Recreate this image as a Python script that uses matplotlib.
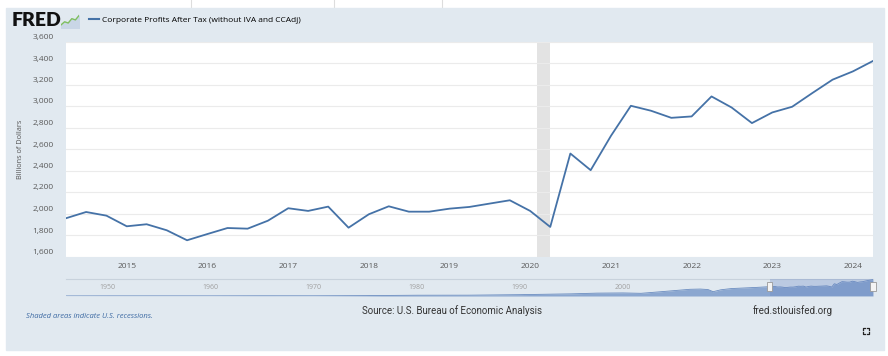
import numpy as np
import pandas as pd
import matplotlib
matplotlib.use("Agg")
import matplotlib.pyplot as plt
import matplotlib.dates as mdates
from matplotlib.patches import Rectangle
from matplotlib.lines import Line2D
from matplotlib.ticker import FuncFormatter
from matplotlib.transforms import ScaledTranslation

# quarterly values, billions of dollars (2014Q2 .. 2024Q2)
quarters = pd.date_range("2014-04-01", "2024-04-01", freq="QS")
profits = [1956, 2014, 1980, 1881, 1900, 1844, 1751, 1809, 1865, 1859, 1933,
           2049, 2024, 2064, 1868, 1993, 2067, 2017, 2017, 2045, 2061, 2092,
           2123, 2024, 1875, 2558, 2403, 2723, 3002, 2956, 2890, 2903, 3089,
           2986, 2841, 2940, 2993, 3120, 3245, 3322, 3419]

# rough history for the navigator strip
hist_dates = pd.to_datetime([
    "1946-01-01", "1950-01-01", "1955-01-01", "1960-01-01", "1965-01-01",
    "1970-01-01", "1975-01-01", "1980-01-01", "1985-01-01", "1990-01-01",
    "1995-01-01", "1997-07-01", "2000-01-01", "2001-10-01", "2004-01-01",
    "2006-07-01", "2007-07-01", "2008-04-01", "2008-10-01", "2009-07-01",
    "2010-07-01", "2012-01-01", "2013-01-01"])
hist_vals = [15, 25, 28, 27, 45, 42, 80, 160, 170, 280, 450, 600, 640, 560,
             950, 1400, 1450, 1350, 900, 1300, 1550, 1700, 1800]

recession = ("2020-02-01", "2020-04-01")
year_ticks = list(range(2015, 2025))
y_ticks = list(range(1600, 3601, 200))
nav_decades = [1950, 1960, 1970, 1980, 1990, 2000]
logo_icon = [1, 2, 1.6, 3, 2.6, 4]

series_name = "Corporate Profits After Tax (without IVA and CCAdj)"
line_color = "#4572a7"
panel = "#e1e9f0"

W, H = 888, 356


def fx(x):
    return x / W


def fy(y):
    return 1 - y / H


fig = plt.figure(figsize=(W / 100, H / 100), dpi=100)
fig.patch.set_facecolor("white")
fig.patches.append(Rectangle((fx(6), fy(350)), fx(878), (350 - 8) / H,
                             transform=fig.transFigure, color=panel,
                             zorder=-10))
for xl in (191, 334, 442):
    fig.lines.append(Line2D([fx(xl), fx(xl)], [fy(0), fy(8)], color="#dddddd",
                            lw=0.8, transform=fig.transFigure, zorder=-10))

# main chart
ax = fig.add_axes([fx(66), fy(256.5), fx(807), (256.5 - 41.5) / H])
ax.set_facecolor("white")
ax.plot(quarters, profits, color=line_color, lw=1.3, zorder=3)
ax.axvspan(pd.Timestamp(recession[0]), pd.Timestamp(recession[1]),
           color="#e3e3e3", lw=0, zorder=1)
ax.set_xlim(quarters[0], quarters[-1])
ax.set_ylim(1600, 3600)
ax.set_yticks(y_ticks)
ax.yaxis.set_major_formatter(FuncFormatter(lambda v, p: f"{int(v):,}"))
ax.set_xticks([pd.Timestamp(f"{y}-01-01") for y in year_ticks])
ax.xaxis.set_major_formatter(mdates.DateFormatter("%Y"))
ax.grid(axis="y", color="#ebebeb", lw=0.8, zorder=0)
for s in ax.spines.values():
    s.set_visible(False)
ax.tick_params(axis="both", length=0, labelsize=6, labelcolor="#5a5a5a")
ax.tick_params(axis="y", pad=9)
ax.tick_params(axis="x", pad=5)
for lab in ax.get_yticklabels():
    lab.set_fontfamily("Open Sans")
    lab.set_transform(lab.get_transform() +
                      ScaledTranslation(0, 5 / 100, fig.dpi_scale_trans))
for lab in ax.get_xticklabels():
    lab.set_fontfamily("Open Sans")
fig.text(fx(21), fy(149), "Billions of Dollars", rotation=90, ha="center",
         va="center", fontsize=5.3, color="#555555", family="Open Sans")

# navigator
nav = fig.add_axes([fx(66), fy(296), fx(807), (296 - 279) / H])
nav.set_facecolor(panel)
nav_x = list(hist_dates) + list(quarters)
nav_y = list(hist_vals) + profits
nav.fill_between(nav_x, nav_y, 0, color="#8ba7d0", lw=0, zorder=2)
nav.plot(nav_x, nav_y, color="#6a8cc0", lw=0.6, zorder=3)
nav.axvspan(quarters[0], quarters[-1], color=(102 / 255, 133 / 255, 194 / 255),
            alpha=0.3, lw=0, zorder=4)
nav.set_xlim(pd.Timestamp("1946-01-01"), quarters[-1])
nav.set_ylim(0, 3550)
for d in nav_decades:
    nav.text(pd.Timestamp(f"{d}-01-01"), 1850, str(d), ha="center",
             va="center", fontsize=5, color="#a0a0a0", family="Open Sans",
             zorder=1)
nav.set_xticks([])
nav.set_yticks([])
for k, s in nav.spines.items():
    s.set_visible(k == "top")
nav.spines["top"].set_color("#c8d2dc")
nav.spines["top"].set_linewidth(0.8)
for d in (quarters[0], quarters[-1]):
    x0 = mdates.date2num(d) - 90
    nav.add_patch(Rectangle((x0, 1050), 180, 1870, fc="#f4f4f4",
                            ec="#999999", lw=0.6, zorder=6, clip_on=False))

# header
fig.text(fx(12), fy(21), "FRED", fontsize=14, fontweight="heavy",
         family="Lato", color="#111111", va="center", ha="left")
icon = fig.add_axes([fx(61), fy(28), fx(18), 14 / H])
icon.plot(range(len(logo_icon)), logo_icon, color="#7fbf5f", lw=1)
icon.fill_between(range(len(logo_icon)), logo_icon, 0, color="#c9d6e6")
icon.set_xlim(0, len(logo_icon) - 1)
icon.set_ylim(0, 4.5)
icon.axis("off")
handle = Line2D([], [], color=line_color, lw=1.5)
fig.legend([handle], [series_name], loc="center left",
           bbox_to_anchor=(fx(86), fy(20)), frameon=False, handlelength=1.1,
           handletextpad=0.4, borderaxespad=0,
           prop={"family": "Open Sans", "size": 6})

# footer
fig.text(fx(26), fy(316), "Shaded areas indicate U.S. recessions.",
         fontsize=5.5, style="italic", color="#3d6aa3", va="center",
         family="Open Sans")
fig.text(fx(452), fy(311), "Source: U.S. Bureau of Economic Analysis",
         fontsize=7, color="#333333", va="center", ha="center",
         family="Roboto")
fig.text(fx(793), fy(311), "fred.stlouisfed.org", fontsize=7,
         color="#333333", va="center", ha="center", family="Roboto")
for sx, sy in ((-1, -1), (1, -1), (-1, 1), (1, 1)):
    cx, cy = 866 + sx * 3, 331 + sy * 3
    fig.lines.append(Line2D([fx(cx), fx(cx), fx(cx - sx * 2)],
                            [fy(cy - sy * 2), fy(cy), fy(cy)],
                            color="#222222", lw=0.9,
                            transform=fig.transFigure))

fig.savefig("out.png", dpi=100)
